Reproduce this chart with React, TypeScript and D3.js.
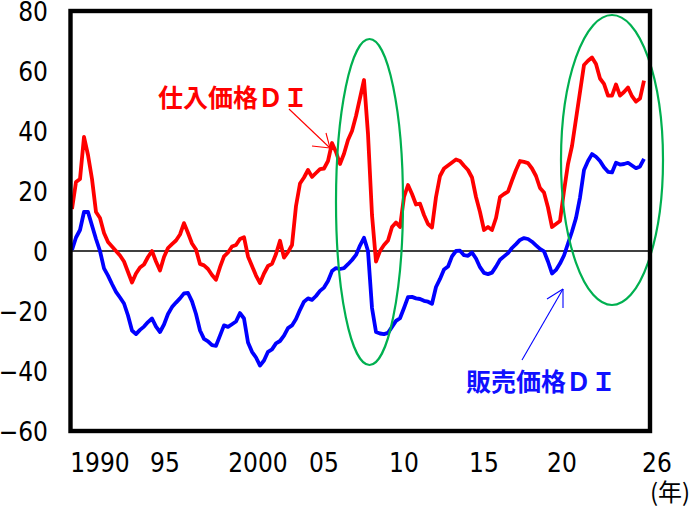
import React from 'react';
import { scaleLinear, line } from 'd3';

// quarterly, 1990Q1 .. 2025Q4
const purchaseDI = [
  14, 23, 24, 38, 32, 24, 13, 11, 6, 3, 1.5, 0, -1.5, -3.5, -7, -10.5,
  -7.5, -5.5, -4.5, -2, 0, -3.5, -6.5, -2, 1, 2.3, 3.5, 5.5, 9.3, 6, 2.5, 0.5,
  -4.3, -4.8, -6, -8, -9.6, -5.4, -1.8, -0.5, 1.5, 2, 4, 4.6, -1.8, -5, -8.2, -10.7,
  -7.5, -5, -4.3, -1, 3.4, -2.2, -0.4, 2, 15, 22.5, 24.5, 27, 24.7, 26, 27.3, 27.5,
  30, 36, 33, 29, 32.4, 37, 40, 45, 51, 57, 39, 12, -3.5, 0, 2, 3.5,
  8, 9.5, 8, 18, 22, 19, 15.5, 15.8, 12, 9, 7.8, 18, 25, 27.5, 28.5, 29.5,
  30.5, 30, 28.4, 27, 24.5, 18, 13, 7, 8, 7, 11, 18, 19, 19.8, 23.5, 27,
  30, 29.7, 29.3, 27.5, 25, 21, 19.5, 14.5, 8, 9, 10, 20, 29, 35, 44, 53,
  62, 63.4, 64.5, 62.3, 57.5, 55.7, 51.8, 51.8, 55.5, 51.8, 53, 54.5, 51.6, 49.8, 50.8, 56.8,
];

const sellingDI = [
  0.4, 4.5, 7, 13, 13, 8.5, 4, 0, -5.8, -8.2, -11, -13.6, -15.5, -17.5, -21.5, -26.5,
  -27.7, -26.3, -25.2, -23.7, -22.5, -25.2, -27, -24.5, -21, -18.7, -17.2, -15.8, -14.1, -14, -16.8, -21,
  -26.5, -29.3, -30.1, -31.4, -31.6, -28.2, -24.8, -25.3, -24.4, -23.5, -20.7, -22.5, -30.5, -33.6, -35.5, -38.2,
  -36.5, -33.6, -32.8, -30.8, -30, -28.2, -25.7, -24.8, -22.7, -19.6, -16.9, -15.8, -16.3, -15, -13.3, -12.2,
  -10, -6.7, -5.7, -6, -5.7, -4.4, -3, -1.3, 1.8, 4.4, 0, -19, -27, -27.5, -27.7, -27.3,
  -25.3, -23.3, -22.4, -19, -15.4, -15.3, -15.8, -16, -16.6, -16.9, -17.6, -12, -9.3, -6.2, -5.2, -1.8,
  0, 0.1, -1.4, -1.6, -0.5, -2.5, -5.4, -7.3, -7.7, -7.2, -5.2, -2.9, -1.8, -0.7, 1, 2.3,
  3.7, 4.3, 4, 3.1, 1.9, 0.7, -0.1, -3.5, -7.5, -6.3, -4.2, -1.5, 2.5, 6.5, 11, 17.8,
  27, 30, 32.3, 31.4, 30, 27.9, 26.4, 26.2, 29.4, 28.8, 29, 29.4, 28.5, 27.6, 28.2, 30.7,
];

const xTickLabels = ['1990', '95', '2000', '05', '10', '15', '20', '26'];
const xTickPos = [7, 23.25, 46.5, 63, 83, 103, 122.5, 146.25]; // in quarter index
const yTicks = [80, 60, 40, 20, 0, -20, -40, -60];

const numFont = "'Liberation Sans Narrow', 'DejaVu Sans Condensed', 'Noto Sans', sans-serif";
const jpFont = "'Noto Sans CJK JP', sans-serif";

const App: React.FC = () => {
  const width = 697;
  const height = 506;
  const plot = { left: 70.5, right: 650, top: 11, bottom: 431 };

  const x = scaleLinear().domain([0, 143]).range([72, 644]);
  const y = scaleLinear().domain([-60, 80]).range([plot.bottom, plot.top]);

  const path = line<number>()
    .x((_, i) => x(i))
    .y((d) => y(d));

  return (
    <svg width={width} height={height} style={{ position: 'absolute', left: 0, top: 0 }}>
      <rect width={width} height={height} fill="#fff" />

      {/* zero line */}
      <line x1={plot.left} x2={plot.right} y1={y(0)} y2={y(0)} stroke="#000" strokeWidth={1.6} />

      <path d={path(purchaseDI) || ''} fill="none" stroke="#ff0000" strokeWidth={3.8} strokeLinejoin="round" />
      <path d={path(sellingDI) || ''} fill="none" stroke="#0000ff" strokeWidth={3.8} strokeLinejoin="round" />

      {/* highlight ellipses */}
      <ellipse cx={369.5} cy={202} rx={33.5} ry={163} fill="none" stroke="#00b050" strokeWidth={2.2} />
      <ellipse cx={612} cy={160} rx={51} ry={145} fill="none" stroke="#00b050" strokeWidth={2.2} />

      {/* frame */}
      <rect
        x={plot.left}
        y={plot.top}
        width={plot.right - plot.left}
        height={plot.bottom - plot.top}
        fill="none"
        stroke="#000"
        strokeWidth={4.4}
      />

      {/* y axis labels */}
      {yTicks.map((t) => (
        <text
          key={t}
          x={48}
          y={y(t) + 10}
          textAnchor="end"
          fontFamily={numFont}
          fontSize={26}
          fill="#000"
        >
          {t < 0 ? `\u2212${-t}` : t}
        </text>
      ))}

      {/* x axis labels */}
      {xTickLabels.map((l, i) => (
        <text
          key={l}
          x={x(xTickPos[i])}
          y={472}
          textAnchor="middle"
          fontFamily={numFont}
          fontSize={26}
          fill="#000"
        >
          {l}
        </text>
      ))}
      <text x={650} y={501} fontFamily={jpFont} fontSize={24} fill="#000">
        (年)
      </text>

      {/* annotations */}
      <text x={158} y={107} fontFamily={jpFont} fontSize={25} fontWeight={700} fill="#ff0000">
        仕入価格ＤＩ
      </text>
      <g stroke="#ff0000" strokeWidth={1.1} fill="none">
        <line x1={289} y1={109} x2={330} y2={148} />
        <line x1={326} y1={133} x2={330} y2={148} />
        <line x1={312} y1={146} x2={330} y2={148} />
      </g>

      <text x={466} y={391} fontFamily={jpFont} fontSize={25} fontWeight={700} fill="#1010ff">
        販売価格ＤＩ
      </text>
      <g stroke="#0000ff" strokeWidth={1.1} fill="none">
        <line x1={522} y1={360} x2={563} y2={289} />
        <line x1={547} y1={299} x2={563} y2={289} />
        <line x1={563} y1={308} x2={563} y2={289} />
      </g>
    </svg>
  );
};

export default App;
